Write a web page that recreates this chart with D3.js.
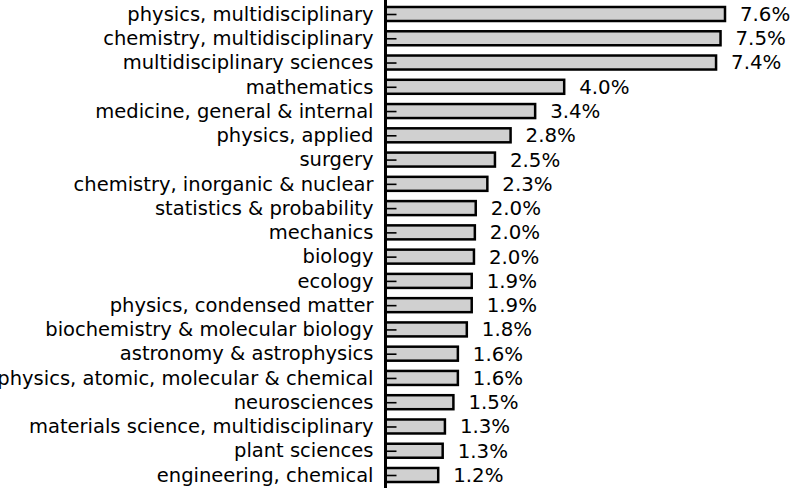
<!DOCTYPE html>
<html>
<head>
<meta charset="utf-8">
<script src="https://cdn.jsdelivr.net/npm/d3@7"></script>
<style>
	body { margin: 0; background: #fff; }
	svg { display: block; }
</style>
</head>
<body>
<svg id="chart"></svg>
<script>
var categories = [
	"physics, multidisciplinary",
	"chemistry, multidisciplinary",
	"multidisciplinary sciences",
	"mathematics",
	"medicine, general & internal",
	"physics, applied",
	"surgery",
	"chemistry, inorganic & nuclear",
	"statistics & probability",
	"mechanics",
	"biology",
	"ecology",
	"physics, condensed matter",
	"biochemistry & molecular biology",
	"astronomy & astrophysics",
	"physics, atomic, molecular & chemical",
	"neurosciences",
	"materials science, multidisciplinary",
	"plant sciences",
	"engineering, chemical"
]
// share in percent; bar lengths
var shares = [7.6, 7.5, 7.4, 4.0, 3.35, 2.8, 2.45, 2.28, 2.02, 2.0, 1.98, 1.93, 1.93, 1.82, 1.62, 1.62, 1.52, 1.33, 1.28, 1.18]
var shareLabels = ["7.6%", "7.5%", "7.4%", "4.0%", "3.4%", "2.8%", "2.5%", "2.3%", "2.0%", "2.0%", "2.0%", "1.9%", "1.9%", "1.8%", "1.6%", "1.6%", "1.5%", "1.3%", "1.3%", "1.2%"]

var dimensions = {
	width: 793,
	height: 488,
	axisX: 385.5,
	barHeight: 14
}

var svg = d3.select("#chart")
	.attr("width", dimensions.width)
	.attr("height", dimensions.height)
	.style("font-family", "'DejaVu Sans', sans-serif")

var data = categories.map((c, i) => ({ name: c, share: shares[i], label: shareLabels[i] }))

var xScale = d3.scaleLinear()
	.domain([0, 7.6])
	.range([dimensions.axisX, 725])

var yScale = d3.scalePoint()
	.domain(categories)
	.range([14, 475])

svg.append("g")
	.selectAll("rect")
	.data(data)
	.enter()
	.append("rect")
	.attr("x", xScale(0))
	.attr("y", d => yScale(d.name) - dimensions.barHeight / 2)
	.attr("width", d => xScale(d.share) - xScale(0))
	.attr("height", dimensions.barHeight)
	.style("fill", "#d0d0d0")
	.style("stroke", "black")
	.style("stroke-width", 2.5)

svg.append("g")
	.selectAll("text")
	.data(data)
	.enter()
	.append("text")
	.attr("x", d => xScale(d.share) + 15)
	.attr("y", d => yScale(d.name))
	.attr("dy", "0.35em")
	.style("font-size", "19.8px")
	.text(d => d.label)

var yAxisgen = d3.axisLeft(yScale)
	.tickSize(-11)
	.tickPadding(12)

var yAxis = svg.append("g")
	.attr("transform", `translate(${dimensions.axisX},0)`)
	.call(yAxisgen)

yAxis.select(".domain").remove()
yAxis.selectAll(".tick line")
	.style("stroke", "black")
	.style("stroke-width", 1.6)
yAxis.selectAll(".tick text")
	.style("font-family", "'DejaVu Sans', sans-serif")
	.style("font-size", "19.5px")
	.style("fill", "black")

yAxis.append("line")
	.attr("y1", 0)
	.attr("y2", dimensions.height)
	.style("stroke", "black")
	.style("stroke-width", 3)
</script>
</body>
</html>
